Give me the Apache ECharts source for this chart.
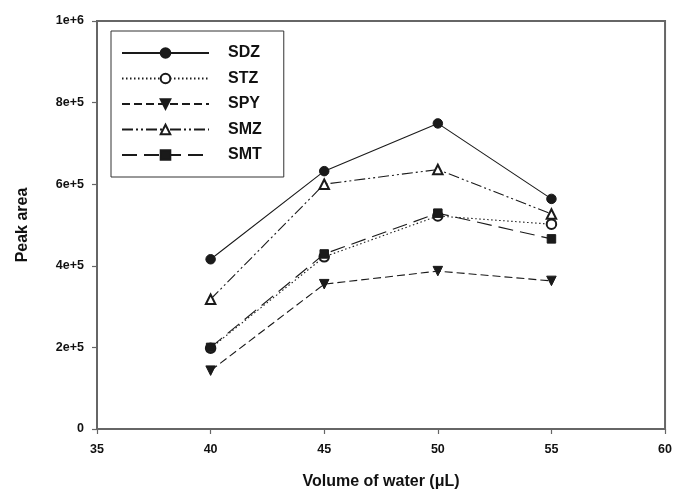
<!DOCTYPE html>
<html>
<head>
<meta charset="utf-8">
<script src="https://cdn.jsdelivr.net/npm/echarts@6/dist/echarts.min.js"></script>
<style>html,body{margin:0;padding:0;background:#fff}#c{width:675px;height:495px}</style>
</head>
<body>
<div id="c"></div>
<script>
const volumes = [40, 45, 50, 55];
const SDZ = [416000, 632000, 749000, 564000];
const STZ = [198000, 422000, 522000, 502000];
const SPY = [143000, 355000, 387000, 363000];
const SMZ = [318000, 600000, 636000, 527000];
const SMT = [200000, 429000, 529000, 466000];
const xTicks = [35, 40, 45, 50, 55, 60];
const yTickValues = [0, 200000, 400000, 600000, 800000, 1000000];
const yTickLabels = ['0', '2e+5', '4e+5', '6e+5', '8e+5', '1e+6'];

const font = '"Liberation Sans", Arial, sans-serif';
const ink = '#1a1a1a';
function pts(v){ return volumes.map((x,i)=>[x, v[i]]); }
function mk(name, data, symbol, type, extra){
  return Object.assign({
    name, type:'line', data: pts(data), symbol, symbolSize: 9.5,
    itemStyle:{color: ink, borderColor: ink, borderWidth: 1},
    lineStyle:{color: ink, width: 1.1, type: type},
    emphasis:{disabled:true}, animation:false, z: 3
  }, extra||{});
}
const chart = echarts.init(document.getElementById('c'), null, {renderer:'canvas'});
chart.setOption({
  animation:false,
  backgroundColor:'#fff',
  grid:{left:97, right:8, top:21, bottom:66, show:true, borderColor:'#666', borderWidth:2, backgroundColor:'transparent'},
  legend:{
    left:111, top:31, orient:'vertical',
    padding:[14,22,14,10], itemGap:9.5, itemWidth:87, itemHeight:12,
    borderColor:'#333', borderWidth:1, backgroundColor:'#fff',
    textStyle:{fontFamily:font, fontWeight:'bold', fontSize:16, color:'#111', padding:[0,0,0,14]},
    data:['SDZ','STZ','SPY','SMZ','SMT']
  },
  xAxis:{
    type:'value', min:35, max:60, interval:5,
    name:'Volume of water (μL)', nameLocation:'middle', nameGap:45,
    nameTextStyle:{fontFamily:font, fontWeight:'bold', fontSize:16, color:'#111'},
    axisLine:{lineStyle:{color:'#666', width:2}},
    axisTick:{show:true, length:5, inside:false, lineStyle:{color:'#666', width:1.2}},
    axisLabel:{margin:14, fontFamily:font, fontWeight:'bold', fontSize:12.5, color:'#111',
      formatter:v=> xTicks.includes(v) ? String(v) : ''},
    splitLine:{show:false}
  },
  yAxis:{
    type:'value', min:0, max:1000000, interval:200000,
    name:'Peak area', nameLocation:'middle', nameGap:66, nameRotate:90,
    nameTextStyle:{fontFamily:font, fontWeight:'bold', fontSize:16, color:'#111'},
    axisLine:{lineStyle:{color:'#666', width:2}},
    axisTick:{show:true, length:5, inside:false, lineStyle:{color:'#666', width:1.2}},
    axisLabel:{margin:13, fontFamily:font, fontWeight:'bold', fontSize:12.5, color:'#111',
      formatter:v=>{ const i = yTickValues.indexOf(v); return i>=0 ? yTickLabels[i] : ''; }},
    splitLine:{show:false}
  },
  series:[
    mk('SDZ', SDZ, 'circle', 'solid'),
    mk('STZ', STZ, 'emptyCircle', [1.5,2.5], {itemStyle:{color:ink, borderColor:ink, borderWidth:1.2}}),
    mk('SPY', SPY, 'triangle', [8,4], {symbolRotate:180}),
    mk('SMZ', SMZ, 'emptyTriangle', [11,3,2,3,2,3], {itemStyle:{color:ink, borderColor:ink, borderWidth:1.2}}),
    mk('SMT', SMT, 'rect', [15,7], {symbolSize:8.5})
  ]
});
</script>
</body>
</html>
